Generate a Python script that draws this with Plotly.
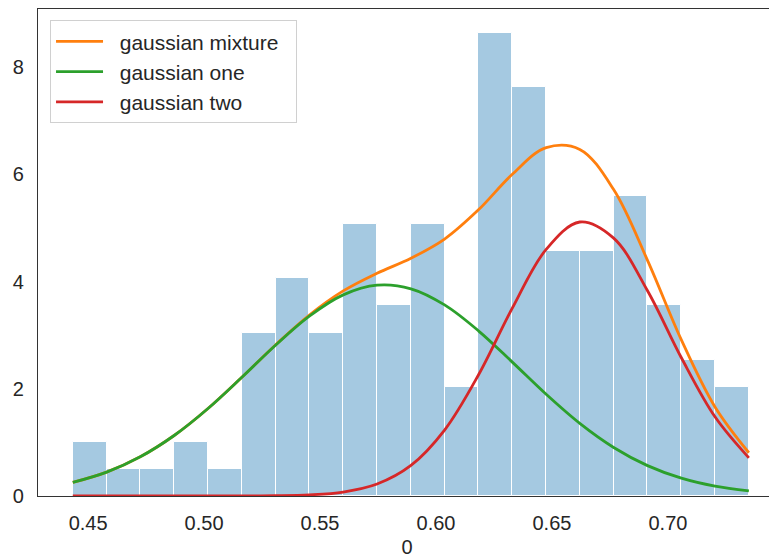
import numpy as np
import plotly.graph_objects as go

# ---- data ----
bin_lo = 0.4434
bin_hi = 0.7349
counts = [2, 1, 1, 2, 1, 6, 8, 6, 10, 7, 10, 4, 17, 15, 9, 9, 11, 7, 5, 4]

curve_x = [0.4434, 0.4580, 0.4725, 0.4871, 0.5017, 0.5163, 0.5308, 0.5454, 0.5600, 0.5746,
           0.5892, 0.6037, 0.6183, 0.6329, 0.6475, 0.6620, 0.6766, 0.6912, 0.7058, 0.7203, 0.7349]
gauss_mixture = [0.254, 0.446, 0.732, 1.129, 1.633, 2.216, 2.818, 3.376, 3.826, 4.156,
                 4.436, 4.794, 5.339, 6.002, 6.499, 6.467, 5.717, 4.397, 2.912, 1.661, 0.807]
gauss_one = [0.254, 0.446, 0.732, 1.129, 1.633, 2.215, 2.813, 3.355, 3.752, 3.933,
             3.866, 3.565, 3.082, 2.498, 1.898, 1.355, 0.906, 0.567, 0.333, 0.184, 0.095]
gauss_two = [0.0, 0.0, 0.0, 0.0, 0.0002, 0.001, 0.005, 0.021, 0.074, 0.223,
             0.570, 1.229, 2.257, 3.504, 4.601, 5.112, 4.811, 3.830, 2.579, 1.477, 0.712]

series_names = ["gaussian mixture", "gaussian one", "gaussian two"]
x_ticks = [0.45, 0.50, 0.55, 0.60, 0.65, 0.70]
x_tick_labels = ["0.45", "0.50", "0.55", "0.60", "0.65", "0.70"]
y_ticks = [0, 2, 4, 6, 8]
x_title = "0"

# ---- derived histogram (density) ----
n_bins = len(counts)
edges = np.linspace(bin_lo, bin_hi, n_bins + 1)
width = edges[1] - edges[0]
centers = (edges[:-1] + edges[1:]) / 2
density = np.array(counts) / (sum(counts) * width)

FONT = "Liberation Sans, Arial, sans-serif"
PAD = "\u00a0\u00a0"

fig = go.Figure()
fig.add_trace(go.Bar(
    x=centers, y=density, width=width,
    marker=dict(color="rgba(31,119,180,0.4)", line=dict(color="white", width=1)),
    showlegend=False, hoverinfo="skip",
))
for name, ys, col in zip(series_names, [gauss_mixture, gauss_one, gauss_two],
                         ["#ff7f0e", "#2ca02c", "#d62728"]):
    fig.add_trace(go.Scatter(
        x=curve_x, y=ys, mode="lines", name=PAD + name + "\u00a0\u00a0",
        line=dict(color=col, width=2.8, shape="spline", smoothing=1.0),
    ))

fig.update_layout(
    width=769, height=550,
    margin=dict(l=30, r=1, t=1, b=62),
    paper_bgcolor="white", plot_bgcolor="white",
    font=dict(family=FONT, size=20, color="#262626"),
    bargap=0,
    legend=dict(
        x=0.0163, y=0.977, xanchor="left", yanchor="top",
        bgcolor="rgba(255,255,255,0.85)", bordercolor="#d0d0d0", borderwidth=1,
        font=dict(family=FONT, size=21, color="#262626"),
        itemwidth=47,
    ),
    xaxis=dict(
        range=[0.4284, 0.7466], tickvals=x_ticks, ticktext=x_tick_labels,
        showgrid=False, zeroline=False, showline=True, mirror=True,
        linecolor="#333333", linewidth=1.3, ticks="", ticklabelstandoff=9,
        title=dict(text=x_title, font=dict(size=20), standoff=7),
    ),
    yaxis=dict(
        range=[0, 9.086], tickvals=y_ticks,
        showgrid=False, zeroline=False, showline=True, mirror=True,
        linecolor="#333333", linewidth=1.3, ticks="", ticklabelstandoff=9,
    ),
)

fig.write_html("out.html")
